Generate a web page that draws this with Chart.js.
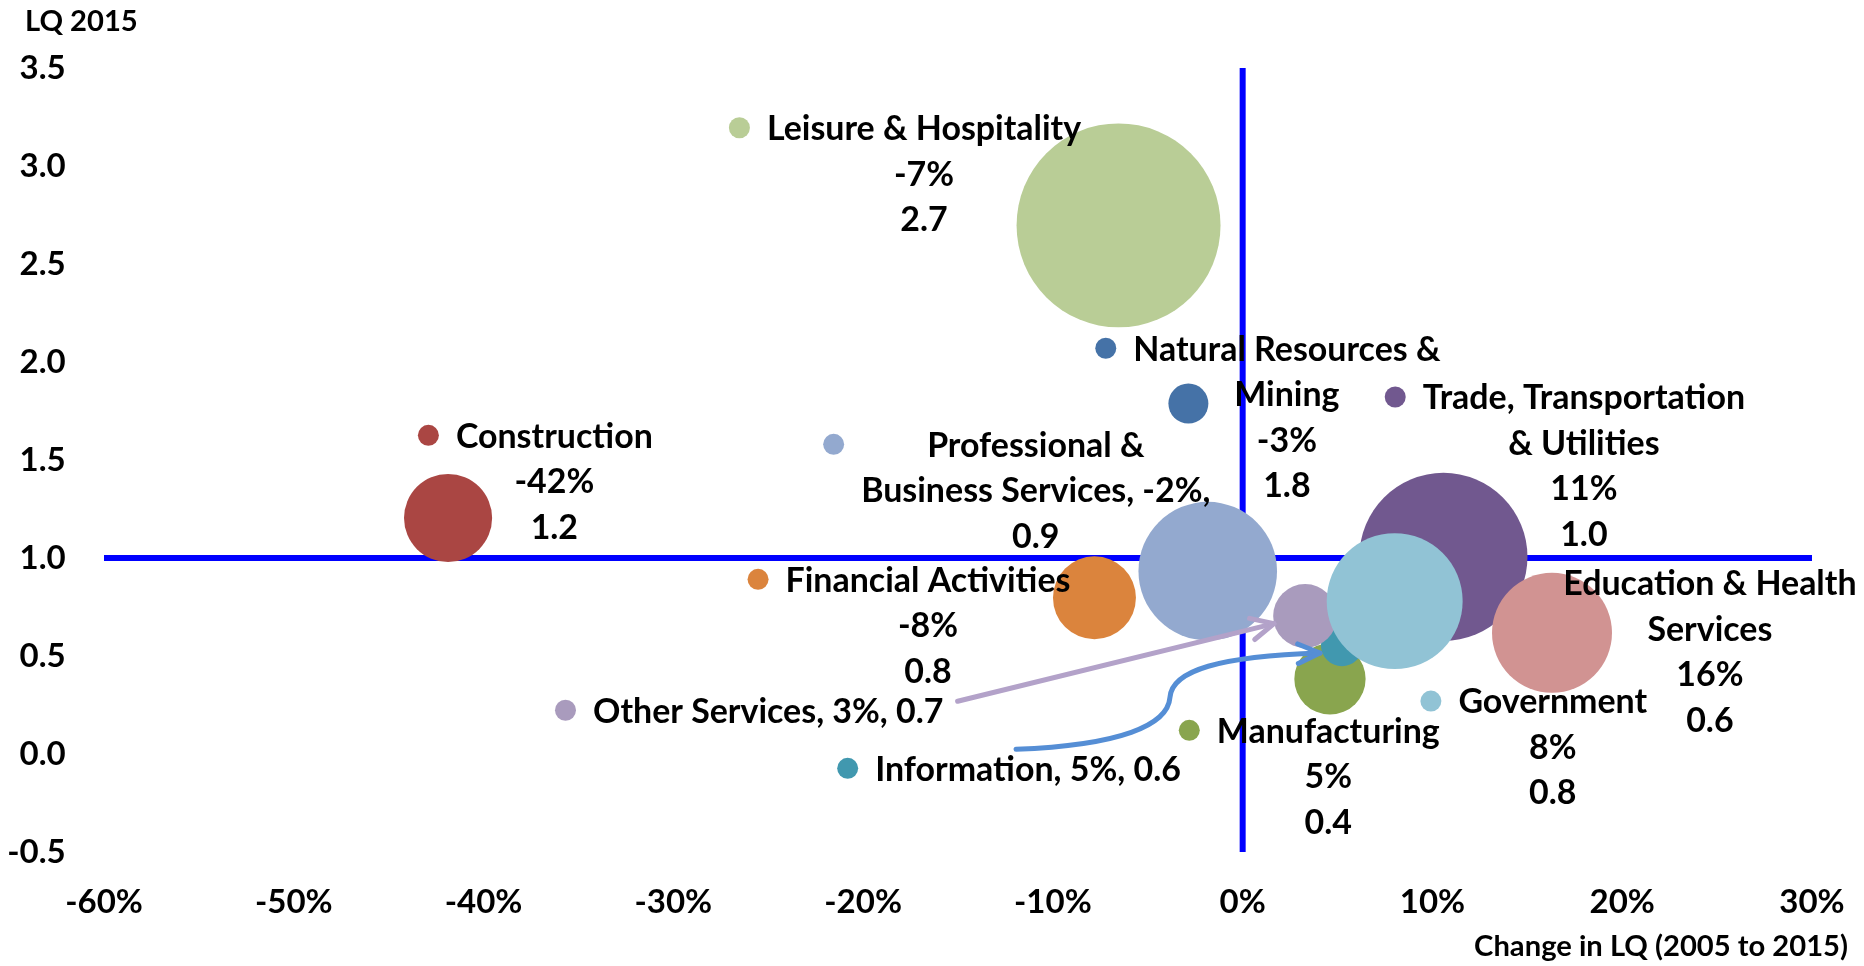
<!DOCTYPE html>
<html>
<head>
<meta charset="utf-8">
<script src="https://cdn.jsdelivr.net/npm/chart.js@4.4.1/dist/chart.umd.min.js"></script>
<style>
html,body{margin:0;padding:0;background:#fff;overflow:hidden}
#wrap{width:1864px;height:966px;position:relative;background:#fff}
</style>
</head>
<body>
<div id="wrap"><canvas id="c"></canvas></div>
<script>
// ---------- data ----------
const industries = ['Natural Resources & Mining','Construction','Manufacturing','Trade, Transportation & Utilities','Information','Financial Activities','Professional & Business Services','Education & Health Services','Leisure & Hospitality','Other Services','Government'];
const lqChange  = [-0.0286,-0.4187,0.046,0.1058,0.0523,-0.0781,-0.0184,0.163,-0.0654,0.0329,0.0801];
const lq2015    = [1.788,1.204,0.383,1.006,0.555,0.797,0.933,0.618,2.697,0.704,0.780];
const bubbleSize = [4.0,19.4,12.7,70.6,4.4,17.2,48.0,36.0,104.0,10.2,46.2];
const seriesColors = ['#4572A7','#AA4643','#89A54E','#71588F','#4198AF','#DB843D','#93A9CF','#D19392','#B9CD96','#A99BBD','#91C3D5'];
const labelLines = [
  ['Natural Resources &','Mining','-3%','1.8'],
  ['Construction','-42%','1.2'],
  ['Manufacturing','5%','0.4'],
  ['Trade, Transportation','& Utilities','11%','1.0'],
  ['Information, 5%, 0.6'],
  ['Financial Activities','-8%','0.8'],
  ['Professional &','Business Services, -2%,','0.9'],
  ['Education & Health','Services','16%','0.6'],
  ['Leisure & Hospitality','-7%','2.7'],
  ['Other Services, 3%, 0.7'],
  ['Government','8%','0.8']
];
// label anchor (centre of text block, first line) in axis units
const labelAnchorX = [0.0233,-0.3627,0.0451,0.1798,-0.1131,-0.1658,-0.1090,0.2462,-0.1679,-0.2500,0.1634];
const labelAnchorY = [2.0699,1.626,0.1209,1.8214,-0.0730,0.8913,1.5801,0.8735,3.1949,0.2230,0.2699];
const labelKey = [true,true,true,true,true,true,true,false,true,true,true];
const xTickValues = [-0.6,-0.5,-0.4,-0.3,-0.2,-0.1,0,0.1,0.2,0.3];
const yTickValues = [-0.5,0,0.5,1.0,1.5,2.0,2.5,3.0,3.5];
const xAxisTitle = 'Change in LQ (2005 to 2015)';
const yAxisTitle = 'LQ 2015';
const refX = 0;   // vertical reference line
const refY = 1;   // horizontal reference line
// arrows (axis units)
const otherArrow = [[-0.1502,0.2689],[0.0165,0.6653]];
const infoArrow = [[-0.1194,0.0240],[-0.0646,0.0444],[-0.0394,0.1454],[-0.0383,0.2893],[-0.0372,0.4270],[-0.0120,0.4985],[0.0407,0.5153]];

// ---------- fonts / frame ----------
const FONT = "Lato, 'Liberation Sans', sans-serif";
const mc = document.createElement('canvas').getContext('2d');
function fitSize(text, w){ mc.font = 'bold 100px ' + FONT; return 100 * w / mc.measureText(text).width; }
const LABEL_SIZE = fitSize('Construction', 197);
const TICK_SIZE = LABEL_SIZE * 36 / 37;
const TITLE_SIZE = fitSize(xAxisTitle, 374);
const LINE_H = 45.5;
const CAP = 0.36;
const W = 1864, H = 966;
const AREA = {left: 104, top: 68, right: 1812, bottom: 852};

// ---------- datasets ----------
const bubbleSets = industries.map((name, i) => ({
  type: 'bubble',
  label: name,
  data: [{x: lqChange[i], y: lq2015[i], r: 10 * Math.sqrt(bubbleSize[i])}],
  backgroundColor: seriesColors[i],
  hoverBackgroundColor: seriesColors[i],
  borderWidth: 0,
  hoverBorderWidth: 0,
  order: industries.length - i
}));
const lineSets = [
  {type:'scatter', label:'ref-h', showLine:true, data:[{x:-0.6,y:refY},{x:0.3,y:refY}], borderColor:'#0000FF', borderWidth:6, pointRadius:0, order:100},
  {type:'scatter', label:'ref-v', showLine:true, data:[{x:refX,y:-0.5},{x:refX,y:3.5}], borderColor:'#0000FF', borderWidth:6, pointRadius:0, order:101}
];

// ---------- plugins ----------
const framePlugin = {
  id: 'frame',
  afterLayout(chart){
    const ca = chart.chartArea;
    ca.left = AREA.left; ca.top = AREA.top; ca.right = AREA.right; ca.bottom = AREA.bottom;
    ca.width = AREA.right - AREA.left; ca.height = AREA.bottom - AREA.top;
    const {x, y} = chart.scales;
    x.left = AREA.left; x.right = AREA.right; x.width = ca.width;
    x.top = AREA.bottom; x.bottom = H; x.height = H - AREA.bottom;
    y.left = 0; y.right = AREA.left; y.width = AREA.left;
    y.top = AREA.top; y.bottom = AREA.bottom; y.height = ca.height;
    x.configure(); y.configure();
    x._labelItems = null; y._labelItems = null;
  }
};
function drawArrowHead(ctx, tx, ty, fx, fy, len, ang){
  const a = Math.atan2(ty - fy, tx - fx);
  ctx.beginPath();
  ctx.moveTo(tx - len*Math.cos(a - ang), ty - len*Math.sin(a - ang));
  ctx.lineTo(tx, ty);
  ctx.lineTo(tx - len*Math.cos(a + ang), ty - len*Math.sin(a + ang));
  ctx.stroke();
}
const annotPlugin = {
  id: 'annot',
  afterDatasetsDraw(chart){
    const {ctx, scales:{x, y}} = chart;
    const P = p => [x.getPixelForValue(p[0]), y.getPixelForValue(p[1])];
    ctx.save();
    ctx.lineCap = 'round'; ctx.lineJoin = 'round';
    // Other services arrow
    let a = P(otherArrow[0]), b = P(otherArrow[1]);
    ctx.strokeStyle = '#B3A2C9'; ctx.lineWidth = 5;
    ctx.beginPath(); ctx.moveTo(a[0], a[1]); ctx.lineTo(b[0], b[1]); ctx.stroke();
    drawArrowHead(ctx, b[0], b[1], a[0], a[1], 25, 0.45);
    // Information arrow
    const q = infoArrow.map(P);
    ctx.strokeStyle = '#558ED5'; ctx.lineWidth = 5;
    ctx.beginPath(); ctx.moveTo(q[0][0], q[0][1]);
    ctx.bezierCurveTo(q[1][0], q[1][1], q[2][0], q[2][1], q[3][0], q[3][1]);
    ctx.bezierCurveTo(q[4][0], q[4][1], q[5][0], q[5][1], q[6][0], q[6][1]);
    ctx.stroke();
    drawArrowHead(ctx, q[6][0], q[6][1], q[5][0], q[5][1], 24, 0.42);
    // data labels
    ctx.font = 'bold ' + LABEL_SIZE + 'px ' + FONT;
    ctx.textAlign = 'center'; ctx.textBaseline = 'alphabetic';
    industries.forEach((name, i) => {
      const lines = labelLines[i];
      const cx = x.getPixelForValue(labelAnchorX[i]);
      const cy = y.getPixelForValue(labelAnchorY[i]);
      let w = 0;
      lines.forEach(l => { w = Math.max(w, ctx.measureText(l).width); });
      if (labelKey[i]) {
        ctx.fillStyle = seriesColors[i];
        ctx.beginPath(); ctx.arc(cx - w/2 - 17 - 10.5, cy, 10.5, 0, Math.PI*2); ctx.fill();
      }
      ctx.fillStyle = '#000';
      lines.forEach((l, j) => ctx.fillText(l, cx, cy + j*LINE_H + CAP*LABEL_SIZE));
    });
    ctx.restore();
  },
  afterDraw(chart){
    const ctx = chart.ctx;
    ctx.save();
    ctx.font = 'bold ' + TITLE_SIZE + 'px ' + FONT;
    ctx.fillStyle = '#000'; ctx.textBaseline = 'alphabetic';
    ctx.textAlign = 'left';
    ctx.fillText(yAxisTitle, 25, 20 + CAP*TITLE_SIZE);
    ctx.textAlign = 'right';
    ctx.fillText(xAxisTitle, 1848, 945 + CAP*TITLE_SIZE);
    ctx.restore();
  }
};

function fixBox(size, vertical){
  return function(scale){
    if (vertical) scale.width = size; else scale.height = size;
    scale.paddingLeft = 0; scale.paddingRight = 0; scale.paddingTop = 0; scale.paddingBottom = 0;
  };
}

new Chart(document.getElementById('c'), {
  type: 'bubble',
  data: { datasets: [...bubbleSets, ...lineSets] },
  options: {
    responsive: true,
    maintainAspectRatio: false,
    animation: false,
    layout: { padding: 0 },
    plugins: { legend: { display: false }, tooltip: { enabled: false }, title: { display: false } },
    scales: {
      x: {
        type: 'linear', min: -0.6, max: 0.3,
        grid: { display: false, drawTicks: false },
        border: { display: false },
        afterBuildTicks: s => { s.ticks = xTickValues.map(v => ({value: v})); },
        afterFit: fixBox(H - AREA.bottom, false),
        ticks: {
          color: '#000', padding: 50.5 - 0.6*TICK_SIZE, maxRotation: 0, autoSkip: false,
          font: { family: FONT, size: TICK_SIZE, weight: 'bold' },
          callback: v => Math.round(v*100) + '%'
        }
      },
      y: {
        type: 'linear', min: -0.5, max: 3.5,
        grid: { display: false, drawTicks: false },
        border: { display: false },
        afterBuildTicks: s => { s.ticks = yTickValues.map(v => ({value: v})); },
        afterFit: fixBox(AREA.left, true),
        ticks: {
          color: '#000', padding: 38.3, autoSkip: false,
          font: { family: FONT, size: TICK_SIZE, weight: 'bold' },
          callback: v => Number(v).toFixed(1)
        }
      }
    }
  },
  plugins: [framePlugin, annotPlugin]
});
</script>
</body>
</html>
